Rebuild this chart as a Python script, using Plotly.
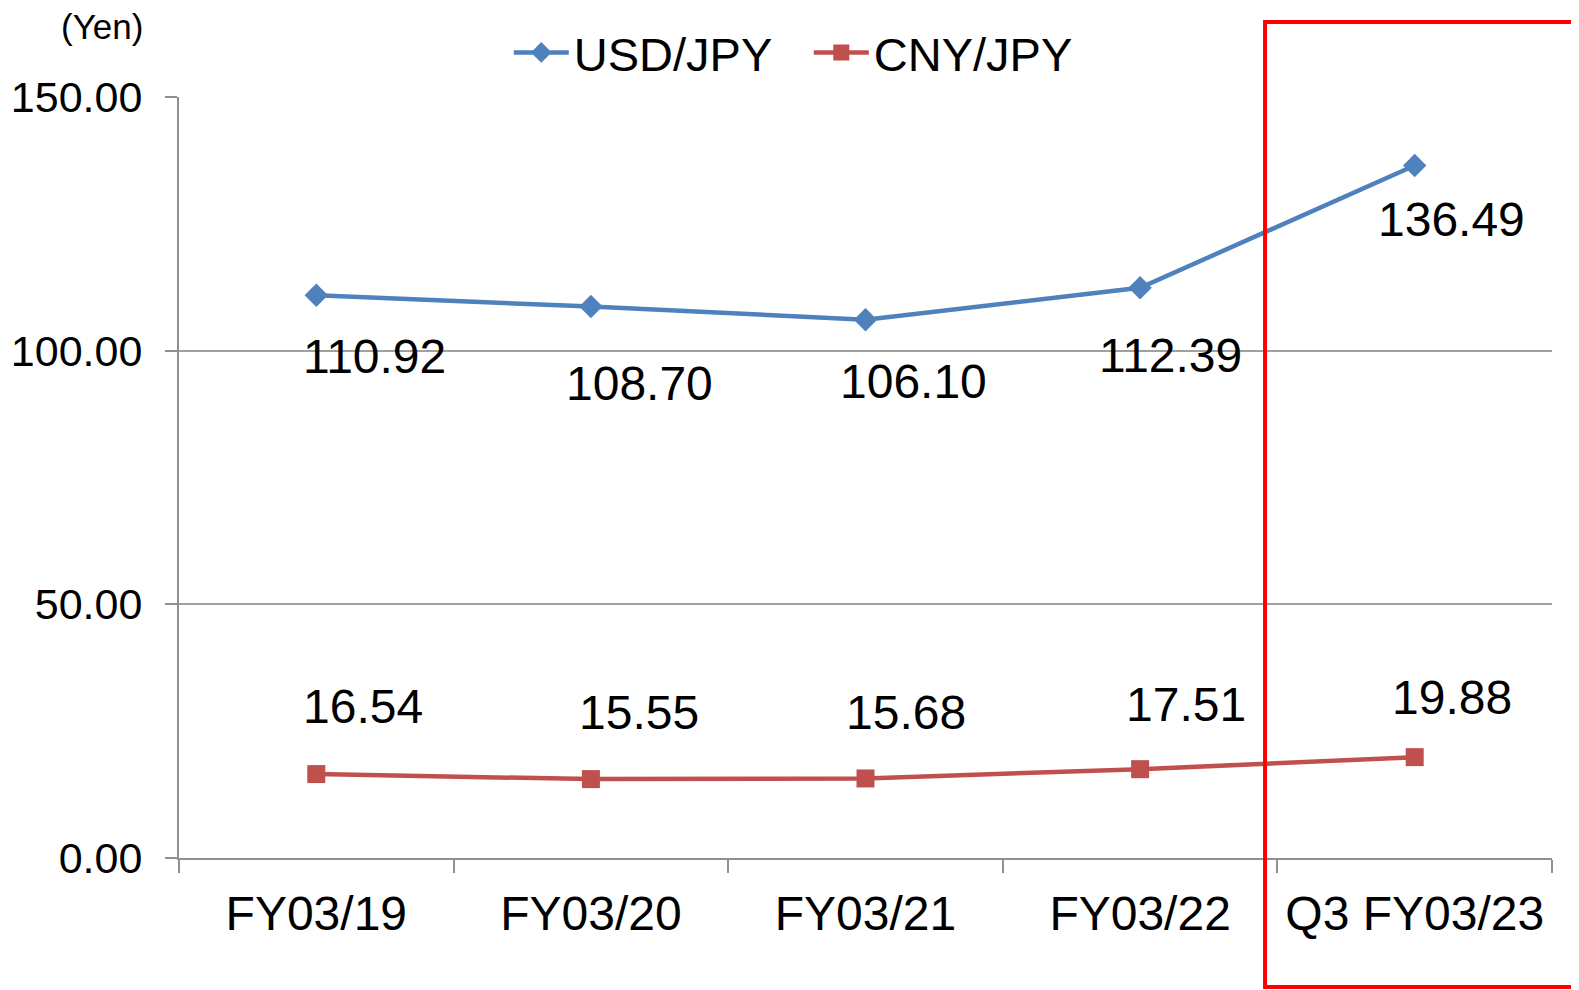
import plotly.graph_objects as go

categories = ["FY03/19", "FY03/20", "FY03/21", "FY03/22", "Q3 FY03/23"]
usd_jpy = [110.92, 108.70, 106.10, 112.39, 136.49]
cny_jpy = [16.54, 15.55, 15.68, 17.51, 19.88]

# label offsets in pixels (layout only): (right, up)
usd_off = [(58, -61), (49, -77), (48, -62), (30, -68), (37, -54)]
cny_off = [(47, 68), (48, 67), (40, 66), (46, 65), (37, 60)]

FONT = "Liberation Sans, Arial, sans-serif"
BLUE = "#4F81BD"
RED = "#C0504D"

fig = go.Figure()
fig.add_trace(go.Scatter(
    x=categories, y=usd_jpy, name="USD/JPY", mode="lines+markers",
    line=dict(color=BLUE, width=4.5),
    marker=dict(symbol="diamond", size=18, color=BLUE),
))
fig.add_trace(go.Scatter(
    x=categories, y=cny_jpy, name="CNY/JPY", mode="lines+markers",
    line=dict(color=RED, width=4.5),
    marker=dict(symbol="square", size=18, color=RED),
))

annotations = []
for c, v, (dx, dy) in zip(categories, usd_jpy, usd_off):
    annotations.append(dict(x=c, y=v, text=f"{v:.2f}", showarrow=False,
                            xshift=dx, yshift=dy,
                            font=dict(family=FONT, size=48, color="black")))
for c, v, (dx, dy) in zip(categories, cny_jpy, cny_off):
    annotations.append(dict(x=c, y=v, text=f"{v:.2f}", showarrow=False,
                            xshift=dx, yshift=dy,
                            font=dict(family=FONT, size=48, color="black")))
annotations.append(dict(xref="paper", yref="paper", x=-0.056, y=1.093,
                        xanchor="center", yanchor="middle",
                        text="(Yen)", showarrow=False,
                        font=dict(family=FONT, size=35, color="black")))

fig.update_layout(
    width=1579, height=990,
    margin=dict(l=171, r=35, t=89, b=140, autoexpand=False),
    paper_bgcolor="white", plot_bgcolor="white",
    font=dict(family=FONT, color="black"),
    showlegend=True,
    legend=dict(orientation="h", x=0.4587, y=1.058, xanchor="center", yanchor="middle",
                font=dict(family=FONT, size=47, color="black"),
                bgcolor="rgba(0,0,0,0)", itemwidth=55,
                entrywidth=230, entrywidthmode="pixels"),
    annotations=annotations,
    shapes=[dict(type="rect", xref="paper", yref="paper",
                 x0=0.791, x1=1.03, y0=-0.1695, y1=1.0986,
                 line=dict(color="#FF0000", width=4), fillcolor="rgba(0,0,0,0)")],
)
fig.update_xaxes(
    type="category", range=[-0.5, 4.5], automargin=False,
    showline=True, linecolor="#909090", linewidth=2,
    ticks="outside", ticklen=13, tickcolor="#909090", tickwidth=2,
    tickson="boundaries", showgrid=False,
    tickfont=dict(family=FONT, size=48, color="black"),
    ticklabelstandoff=12,
)
fig.update_yaxes(
    range=[0, 150], dtick=50, tickformat=".2f", automargin=False,
    showline=True, linecolor="#909090", linewidth=2,
    ticks="outside", ticklen=12, tickcolor="#909090", tickwidth=2,
    showgrid=True, gridcolor="#A0A0A0", gridwidth=2,
    zeroline=False,
    tickfont=dict(family=FONT, size=43, color="black"),
    ticklabelstandoff=14,
)

fig.write_html("out.html")
